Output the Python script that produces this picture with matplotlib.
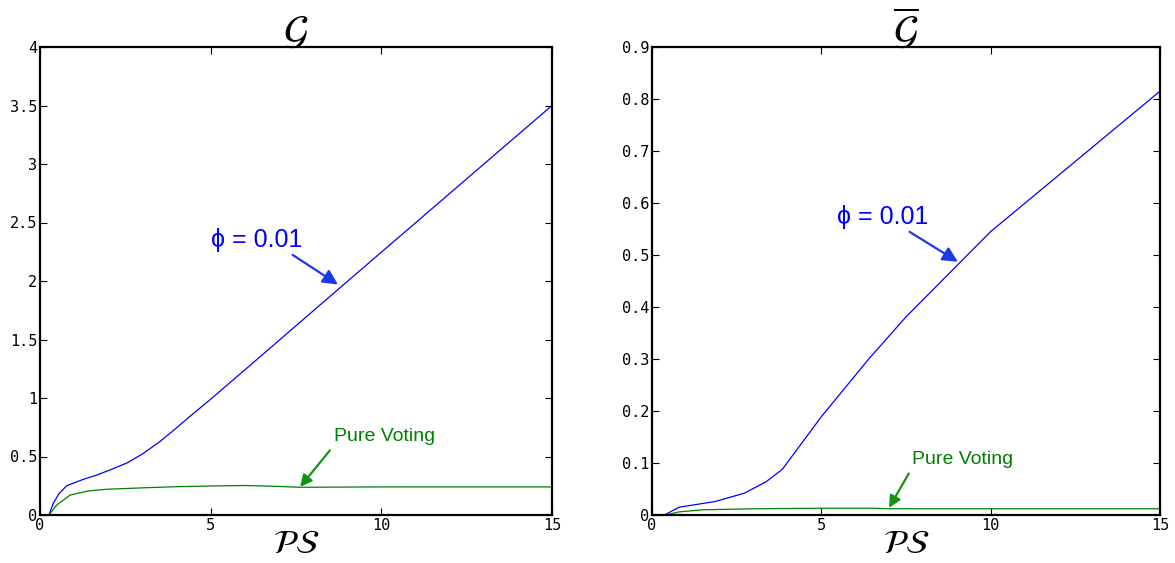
import matplotlib
matplotlib.use("Agg")
import matplotlib.pyplot as plt
import numpy as np

plt.rcParams['mathtext.fontset'] = 'stix'

# left panel: G
left_x_phi = [0.26, 0.39, 0.55, 0.78, 1.27, 1.65, 2.05, 2.55, 3.03, 3.5, 3.9, 4.4, 5.0, 6.0, 8.7, 15.0]
left_y_phi = [0.0, 0.1, 0.18, 0.25, 0.305, 0.34, 0.385, 0.445, 0.527, 0.625, 0.72, 0.845, 0.99, 1.24, 1.92, 3.5]
left_x_pv = [0.26, 0.49, 0.88, 1.4, 1.95, 3.0, 4.0, 5.0, 6.0, 7.0, 7.6, 10.0, 15.0]
left_y_pv = [0.0, 0.085, 0.17, 0.205, 0.22, 0.232, 0.242, 0.248, 0.252, 0.244, 0.237, 0.24, 0.24]

# right panel: G bar
right_x_phi = [0.37, 0.8, 1.87, 2.73, 3.37, 3.85, 5.0, 6.4, 7.5, 10.0, 15.0]
right_y_phi = [0.0, 0.015, 0.026, 0.042, 0.064, 0.088, 0.189, 0.3, 0.381, 0.545, 0.815]
right_x_pv = [0.4, 0.8, 1.5, 3.0, 5.0, 6.5, 7.0, 10.0, 15.0]
right_y_pv = [0.0, 0.006, 0.01, 0.012, 0.013, 0.013, 0.012, 0.012, 0.012]

left_yticks = [0, 0.5, 1, 1.5, 2, 2.5, 3, 3.5, 4]
left_ytick_labels = ['0', '0.5', '1', '1.5', '2', '2.5', '3', '3.5', '4']
right_yticks = [0, 0.1, 0.2, 0.3, 0.4, 0.5, 0.6, 0.7, 0.8, 0.9]
right_ytick_labels = ['0', '0.1', '0.2', '0.3', '0.4', '0.5', '0.6', '0.7', '0.8', '0.9']
xticks = [0, 5, 10, 15]

BLUE = '#0000ff'
GREEN = '#008000'
ARROW_BLUE = '#1a3ae6'
ARROW_GREEN = '#149414'
TEXT_FONT = ['Liberation Sans', 'DejaVu Sans']
ARROW = '-|>,head_length=0.5,head_width=0.25'

fig = plt.figure(figsize=(11.75, 5.63), dpi=100)
ax1 = fig.add_axes([40/1175, 48/563, 512/1175, 468/563])
ax2 = fig.add_axes([652/1175, 48/563, 508/1175, 468/563])


def style_axes(ax, yticks, ylabels, ymax, title):
    ax.set_xlim(0, 15)
    ax.set_ylim(0, ymax)
    ax.set_xticks(xticks)
    ax.set_xticklabels([str(t) for t in xticks], family='DejaVu Sans Mono', fontsize=11)
    ax.set_yticks(yticks)
    ax.set_yticklabels(ylabels, family='DejaVu Sans Mono', fontsize=11)
    ax.tick_params(direction='in', top=True, right=True, length=5, width=0.8, pad=2)
    for s in ax.spines.values():
        s.set_linewidth(1.6)
    ax.set_title(title, fontsize=29, pad=3)
    ax.set_xlabel(r'$\mathcal{PS}$', fontsize=24, labelpad=-4)


ax1.plot(left_x_phi, left_y_phi, color=BLUE, lw=0.9)
ax1.plot(left_x_pv, left_y_pv, color=GREEN, lw=0.9)
style_axes(ax1, left_yticks, left_ytick_labels, 4, r'$\mathcal{G}$')

ax1.annotate('ϕ = 0.01', xy=(8.73, 1.97), xytext=(5.0, 2.35),
             color=BLUE, fontsize=18, family=TEXT_FONT,
             va='center', ha='left',
             arrowprops=dict(arrowstyle=ARROW, color=ARROW_BLUE, lw=1.6,
                             shrinkA=0, shrinkB=0, relpos=(0.85, 0.0)))
ax1.annotate('Pure Voting', xy=(7.62, 0.24), xytext=(8.61, 0.667),
             color=GREEN, fontsize=14, family=TEXT_FONT,
             va='center', ha='left',
             arrowprops=dict(arrowstyle=ARROW, color=ARROW_GREEN, lw=1.6,
                             shrinkA=2, shrinkB=0, relpos=(0.0, 0.0)))

ax2.plot(right_x_phi, right_y_phi, color=BLUE, lw=0.9)
ax2.plot(right_x_pv, right_y_pv, color=GREEN, lw=0.9)
style_axes(ax2, right_yticks, right_ytick_labels, 0.9, r'$\overline{\mathcal{G}}$')

ax2.annotate('ϕ = 0.01', xy=(9.03, 0.487), xytext=(5.45, 0.573),
             color=BLUE, fontsize=18, family=TEXT_FONT,
             va='center', ha='left',
             arrowprops=dict(arrowstyle=ARROW, color=ARROW_BLUE, lw=1.6,
                             shrinkA=0, shrinkB=0, relpos=(0.75, 0.0)))
ax2.annotate('Pure Voting', xy=(7.0, 0.014), xytext=(7.67, 0.106),
             color=GREEN, fontsize=14, family=TEXT_FONT,
             va='center', ha='left',
             arrowprops=dict(arrowstyle=ARROW, color=ARROW_GREEN, lw=1.6,
                             shrinkA=2, shrinkB=0, relpos=(0.0, 0.0)))

fig.savefig('out.png', dpi=100)
